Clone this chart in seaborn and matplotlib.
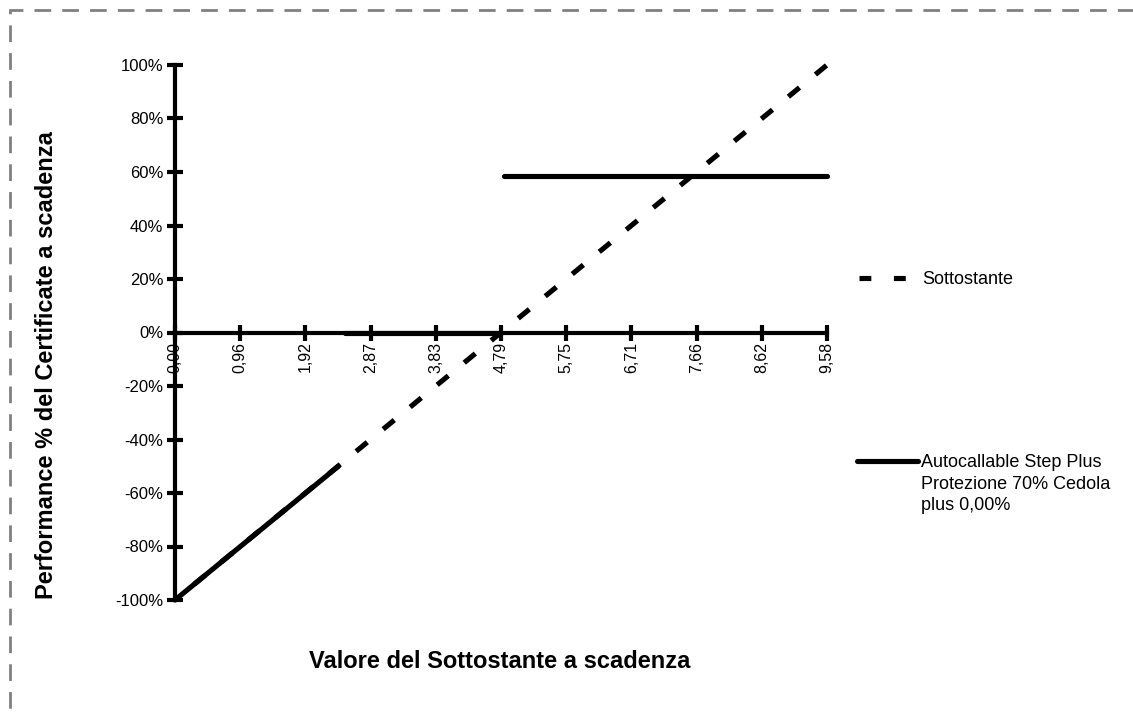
import numpy as np
import pandas as pd
import matplotlib
matplotlib.use("Agg")
import matplotlib.pyplot as plt
import seaborn as sns
from matplotlib.patches import Rectangle
from matplotlib.lines import Line2D

# ---- data ----
x_ticks = [0.00, 0.958, 1.916, 2.874, 3.832, 4.79, 5.748, 6.706, 7.664, 8.622, 9.58]
x_tick_labels = ["0,00", "0,96", "1,92", "2,87", "3,83", "4,79", "5,75", "6,71", "7,66", "8,62", "9,58"]
y_ticks = [-100, -80, -60, -40, -20, 0, 20, 40, 60, 80, 100]
y_tick_labels = ["-100%", "-80%", "-60%", "-40%", "-20%", "0%", "20%", "40%", "60%", "80%", "100%"]

under_x = [0.0, 9.58]
under_y = [-100, 100]

cert_x = [0.0, 2.40, 2.50, 4.79, 4.83, 9.58]
cert_y = [-100, -50, 0, 0, 58.5, 58.5]
cert_seg = [0, 0, 1, 1, 2, 2]

label_under = "Sottostante"
label_cert_lines = ["Autocallable Step Plus", "Protezione 70% Cedola", "plus 0,00%"]

sns.set_theme(style="white")
plt.rcParams["font.family"] = ["Liberation Sans", "DejaVu Sans"]

LW = 3.7

fig = plt.figure(figsize=(11.33, 7.18), dpi=100)
ax = fig.add_axes([175 / 1133, 1 - 600 / 718, 652 / 1133, 535 / 718])

df_c = pd.DataFrame({"x": cert_x, "y": cert_y, "seg": cert_seg})
sns.lineplot(data=df_c, x="x", y="y", units="seg", estimator=None, color="black",
             lw=LW, ax=ax, solid_capstyle="round", clip_on=False, zorder=3)
df_u = pd.DataFrame({"x": under_x, "y": under_y})
sns.lineplot(data=df_u, x="x", y="y", color="black", lw=LW, ax=ax,
             clip_on=False, zorder=4)
ax.lines[-1].set_linestyle((2.0, (2.8, 4.0)))

ax.set_xlim(0, 9.58)
ax.set_ylim(-100, 100)
ax.spines["left"].set_position(("data", 0))
ax.spines["bottom"].set_position(("data", 0))
ax.spines["right"].set_visible(False)
ax.spines["top"].set_visible(False)
for s in ("left", "bottom"):
    ax.spines[s].set_linewidth(3)
    ax.spines[s].set_color("black")
ax.set_xticks(x_ticks)
ax.set_xticklabels(x_tick_labels, rotation=90, fontsize=11.5)
ax.set_yticks(y_ticks)
ax.set_yticklabels(y_tick_labels, fontsize=12)
ax.tick_params(axis="both", which="major", bottom=True, left=True, direction="inout",
               length=11, width=3, color="black", labelcolor="black")
ax.tick_params(axis="x", pad=1)
ax.tick_params(axis="y", pad=3)
ax.set_xlabel("")
ax.set_ylabel("")
ax.grid(False)

fig.text(500 / 1133, 1 - 662 / 718, "Valore del Sottostante a scadenza", fontsize=17,
         fontweight="bold", ha="center", va="center", color="black")
fig.text(47 / 1133, 1 - 365 / 718, "Performance % del Certificate a scadenza", fontsize=17,
         fontweight="bold", ha="center", va="center", rotation=90, color="black")

# legends
h1 = Line2D([0], [0], color="black", lw=LW, linestyle=(0, (2.3, 4.4)))
h2 = Line2D([0], [0], color="black", lw=LW, solid_capstyle="round")
blank = Line2D([0], [0], color="none", lw=0)
leg1 = fig.legend([h1], [label_under], loc="center left", bbox_to_anchor=(859 / 1133, 1 - 280 / 718),
                  frameon=False, fontsize=13, handlelength=2.7, handletextpad=0.8,
                  borderaxespad=0, borderpad=0)
leg2 = fig.legend([h2, blank, blank], label_cert_lines, loc="upper left",
                  bbox_to_anchor=(857 / 1133, 1 - 454 / 718),
                  frameon=False, fontsize=13, handlelength=3.4, handletextpad=0.15,
                  labelspacing=0.25, borderaxespad=0, borderpad=0)
for t in list(leg1.get_texts()) + list(leg2.get_texts()):
    t.set_color("black")

# dashed border
fig.patches.append(Rectangle((10 / 1133, -0.1), 1.2, (1 - 10 / 718) + 0.1, transform=fig.transFigure,
                             fill=False, edgecolor="#808080", lw=2, ls=(0, (6, 4)), clip_on=False))

fig.savefig("out.png", dpi=100, facecolor="white")
